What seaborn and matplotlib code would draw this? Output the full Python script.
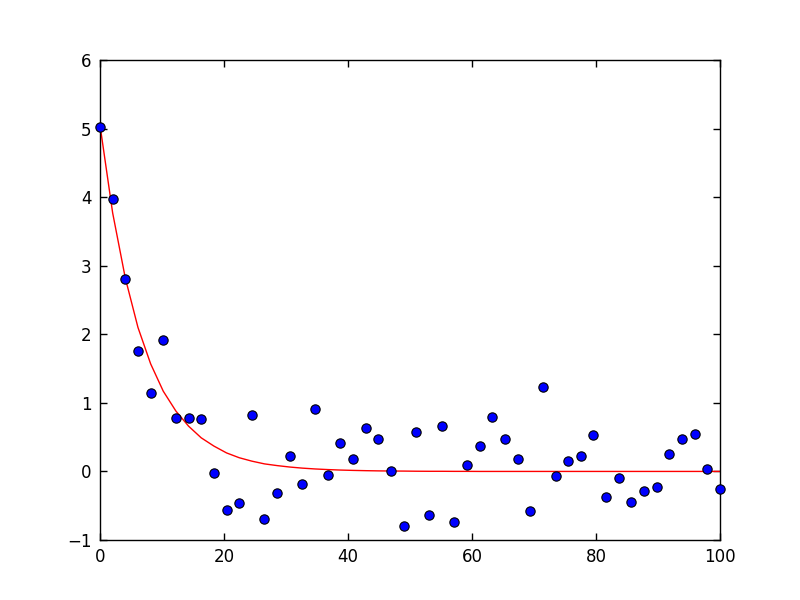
import matplotlib
matplotlib.use("Agg")
import matplotlib.pyplot as plt
import numpy as np
import pandas as pd
import seaborn as sns

# sample positions (50 evenly spaced samples between 0 and 100)
x_vals = np.linspace(0, 100, 50)

y_points = [5.03, 3.97, 2.80, 1.75, 1.15, 1.92, 0.78, 0.78, 0.76, -0.03,
            -0.56, -0.46, 0.83, -0.69, -0.31, 0.23, -0.18, 0.91, -0.05, 0.42,
            0.18, 0.64, 0.48, 0.00, -0.79, 0.57, -0.63, 0.66, -0.74, 0.09,
            0.37, 0.80, 0.47, 0.18, -0.57, 1.23, -0.07, 0.15, 0.22, 0.53,
            -0.38, -0.10, -0.45, -0.28, -0.22, 0.26, 0.48, 0.55, 0.03, -0.26]

# fitted decay curve
y_fit = [5.05, 3.77, 2.82, 2.10, 1.57, 1.17, 0.88, 0.66, 0.49, 0.37,
         0.27, 0.20, 0.15, 0.11, 0.085, 0.064, 0.048, 0.036, 0.027, 0.020,
         0.015, 0.011, 0.008, 0.006, 0.005, 0.003, 0.002, 0.002, 0.001, 0.001,
         0.0, 0.0, 0.0, 0.0, 0.0, 0.0, 0.0, 0.0, 0.0, 0.0,
         0.0, 0.0, 0.0, 0.0, 0.0, 0.0, 0.0, 0.0, 0.0, 0.0]

df = pd.DataFrame({'x': x_vals, 'y': y_points, 'fit': y_fit})

sns.set_style("ticks", {"xtick.direction": "in", "ytick.direction": "in"})
plt.rcParams['font.family'] = ['DejaVu Sans']
plt.rcParams['font.size'] = 12

fig = plt.figure(figsize=(8, 6), dpi=100)
ax = fig.add_axes([0.125, 0.1, 0.775, 0.8])

sns.lineplot(data=df, x='x', y='fit', color='red', linewidth=1, ax=ax, zorder=2)
sns.scatterplot(data=df, x='x', y='y', color='blue', edgecolor='black',
                linewidth=0.8, s=45, ax=ax, zorder=3, clip_on=False)

ax.set_xlim(0, 100)
ax.set_ylim(-1, 6)
ax.set_xticks(np.arange(0, 101, 20))
ax.set_yticks(np.arange(-1, 7, 1))
ax.set_xlabel('')
ax.set_ylabel('')
ax.tick_params(top=True, right=True, length=5, width=1, labelsize=12,
               color='black', labelcolor='black', pad=6)
for s in ax.spines.values():
    s.set_color('black')
    s.set_linewidth(1)

fig.savefig('out.png', dpi=100, facecolor='white')
